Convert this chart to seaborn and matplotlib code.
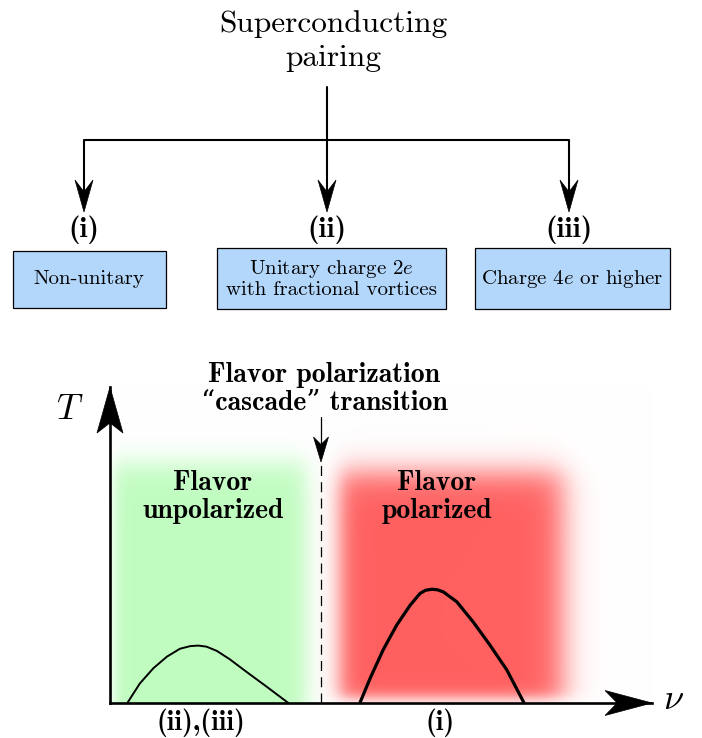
import numpy as np
import matplotlib
matplotlib.use('Agg')
import matplotlib.pyplot as plt
import seaborn as sns
from matplotlib.patches import Polygon, Rectangle

# %%
# data
root_text = 'Superconducting\npairing'
branch_labels = ['(i)', '(ii)', '(iii)']
box_texts = ['Non-unitary', 'Unitary charge $2e$\nwith fractional vortices', 'Charge $4e$ or higher']

transition_text = 'Flavor polarization\n“cascade” transition'
phase_texts = ['Flavor\nunpolarized', 'Flavor\npolarized']
phase_bottom = ['(ii),(iii)', '(i)']

# phase diagram axes: nu 0..10, T 0..6
nu_transition = 3.89
dome_unpol_nu = [0.32, 0.55, 0.80, 1.05, 1.29, 1.48, 1.63, 1.78, 1.97, 2.21, 2.52, 2.89, 3.29]
dome_unpol_T = [0.00, 0.37, 0.66, 0.88, 1.03, 1.08, 1.09, 1.07, 0.99, 0.83, 0.59, 0.31, 0.00]
dome_pol_nu = [4.61, 4.80, 5.04, 5.29, 5.54, 5.72, 5.82, 5.94, 6.04, 6.15, 6.40, 6.70, 7.01, 7.32, 7.64]
dome_pol_T = [0.00, 0.47, 1.01, 1.48, 1.86, 2.08, 2.14, 2.16, 2.15, 2.11, 1.92, 1.54, 1.10, 0.63, 0.00]

# %%
sns.set_theme(style='white')
plt.rcParams['font.family'] = ['cmr10', 'DejaVu Serif']
plt.rcParams['mathtext.fontset'] = 'cm'
plt.rcParams['axes.formatter.use_mathtext'] = True
plt.rcParams['text.color'] = 'black'

W, H = 702, 738
fig = plt.figure(figsize=(W / 100, H / 100), dpi=100)
ax = fig.add_axes([0, 0, 1, 1])
ax.set_xlim(0, W)
ax.set_ylim(H, 0)
ax.axis('off')


def stealth(ax, tip, d, L, Wd, notch=0.7):
    tx, ty = tip
    dx, dy = d
    nx, ny = -dy, dx
    bx, by = tx - dx * L, ty - dy * L
    pts = [(tx, ty), (bx + nx * Wd / 2, by + ny * Wd / 2),
           (tx - dx * L * notch, ty - dy * L * notch),
           (bx - nx * Wd / 2, by - ny * Wd / 2)]
    ax.add_patch(Polygon(pts, closed=True, fc='black', ec='black', lw=0.5, zorder=6))


# tree
bold = ['cmb10', 'DejaVu Serif']
ax.text(333, 41, root_text, ha='center', va='center', fontsize=22.6, linespacing=1.3)
branch_x = [84, 327, 569]
ax.plot([327, 327], [87, 200], color='black', lw=1.5)
ax.plot([84, 84, 569, 569], [200, 140, 140, 200], color='black', lw=1.5)
for bx_ in branch_x:
    stealth(ax, (bx_, 212), (0, 1), 32, 18, notch=0.63)
for bx_, lab in zip(branch_x, branch_labels):
    ax.text(bx_, 230, lab, ha='center', va='center', fontsize=21, family=bold)

boxes = [(12.5, 250.5, 153, 57), (217, 248, 229, 61), (475, 248, 195, 61)]
for (x0, y0, bw, bh), txt in zip(boxes, box_texts):
    ax.add_patch(Rectangle((x0, y0), bw, bh, fc='#b3d6fb', ec='black', lw=0.9))
    ax.text(x0 + bw / 2, y0 + bh / 2, txt, ha='center', va='center', fontsize=15, linespacing=1.12)

# phase diagram inset
px0, px1, py0, py1 = 110, 652, 703, 387
pax = fig.add_axes([px0 / W, (H - py0) / H, (px1 - px0) / W, (py0 - py1) / H])
pax.set_xlim(0, 10)
pax.set_ylim(0, 6)
pax.patch.set_alpha(0)
pax.set_xticks([])
pax.set_yticks([])
for s in ['top', 'right']:
    pax.spines[s].set_visible(False)
for s in ['left', 'bottom']:
    pax.spines[s].set_linewidth(1.9)
    pax.spines[s].set_color('black')

# blurred regions, pixel grid over the inset
gx = np.linspace(px0, px1, 542)
gy = np.linspace(py1, py0, 316)
XX, YY = np.meshgrid(gx, gy)


def soft(t, w):
    return 1 / (1 + np.exp(-t / w))


a_g = soft(XX - 114, 4) * soft(306 - XX, 6) * soft(YY - 463, 8)
a_r = soft(XX - 340, 6) * soft(563 - XX, 9) * soft(YY - 472, 9) * soft(698 - YY, 4)
green = np.array([192, 252, 192]) / 255
red = np.array([255, 96, 96]) / 255
img = np.ones(XX.shape + (3,))
img = img * (1 - a_g[..., None]) + green * a_g[..., None]
img = img * (1 - a_r[..., None]) + red * a_r[..., None]
pax.imshow(img, extent=(0, 10, 0, 6), origin='upper', aspect='auto', zorder=0)

sns.lineplot(x=dome_unpol_nu, y=dome_unpol_T, ax=pax, color='black', lw=1.4, sort=False,
             estimator=None, solid_joinstyle='round', solid_capstyle='round')
sns.lineplot(x=dome_pol_nu, y=dome_pol_T, ax=pax, color='black', lw=2.3, sort=False,
             estimator=None, solid_joinstyle='round', solid_capstyle='round')
pax.plot([nu_transition, nu_transition], [0, 4.6], color='black', lw=0.9, ls=(0, (8, 5)))

# axis arrows and transition arrow (pixel coords on background axes)
ax.plot([321, 321], [417, 450], color='black', lw=0.9)
stealth(ax, (321, 462), (0, 1), 25, 15)
stealth(ax, (110, 387), (0, -1), 46, 26, notch=0.78)
stealth(ax, (652, 703), (1, 0), 47, 25, notch=0.74)
ax.set_zorder(pax.get_zorder() + 1)
ax.patch.set_alpha(0)

ax.text(70, 410, '$T$', ha='center', va='center', fontsize=26)
ax.text(674, 700, r'$\nu$', ha='center', va='center', fontsize=26)
ax.text(324, 389, transition_text, ha='center', va='center', fontsize=20, family=bold, linespacing=1.05)
ax.text(213, 497, phase_texts[0], ha='center', va='center', fontsize=20, family=bold, linespacing=1.05)
ax.text(437, 497, phase_texts[1], ha='center', va='center', fontsize=20, family=bold, linespacing=1.05)
ax.text(201, 723, phase_bottom[0], ha='center', va='center', fontsize=20, family=bold)
ax.text(440, 723, phase_bottom[1], ha='center', va='center', fontsize=20, family=bold)

fig.savefig('out.png', dpi=100)
